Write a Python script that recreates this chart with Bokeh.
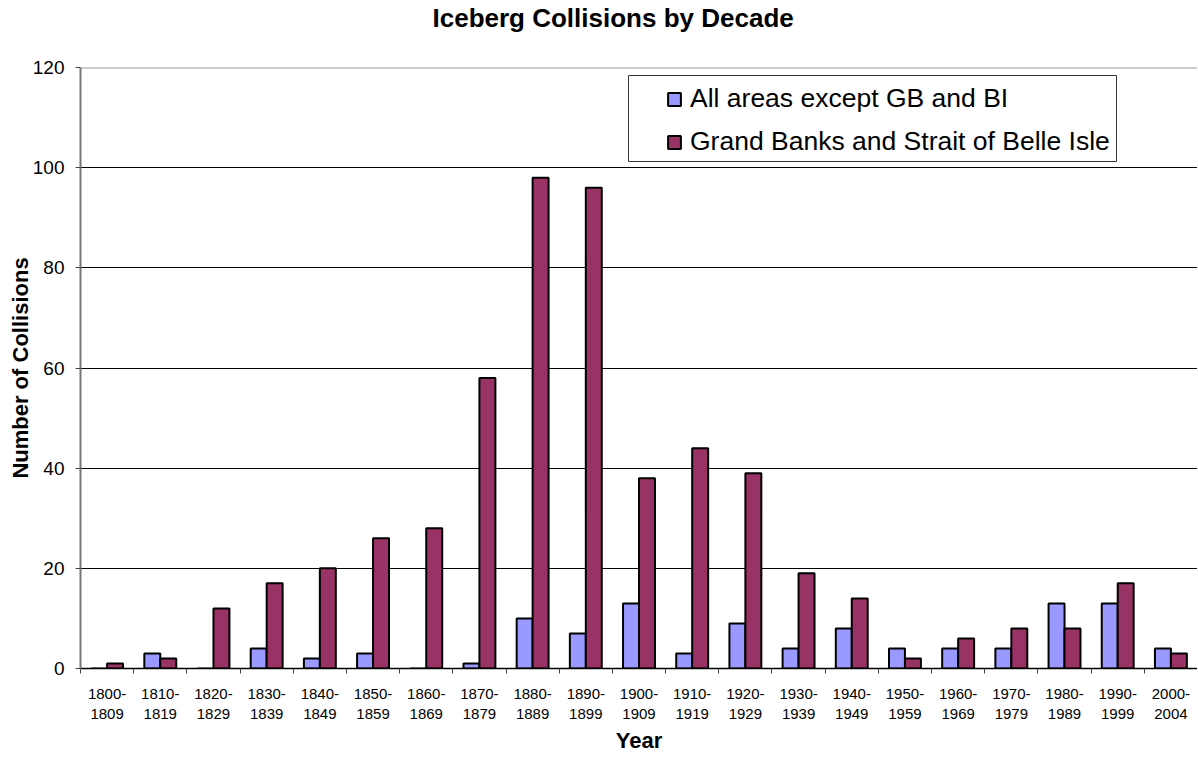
from bokeh.plotting import figure
from bokeh.models import (ColumnDataSource, FixedTicker, Range1d, Span, Legend,
                          LegendItem, BoxAnnotation, Title)
from bokeh.transform import dodge
from bokeh.embed import file_html
from bokeh.resources import INLINE

decades = ["1800-\n1809", "1810-\n1819", "1820-\n1829", "1830-\n1839", "1840-\n1849",
           "1850-\n1859", "1860-\n1869", "1870-\n1879", "1880-\n1889", "1890-\n1899",
           "1900-\n1909", "1910-\n1919", "1920-\n1929", "1930-\n1939", "1940-\n1949",
           "1950-\n1959", "1960-\n1969", "1970-\n1979", "1980-\n1989", "1990-\n1999",
           "2000-\n2004"]
other_areas = [0, 3, 0, 4, 2, 3, 0, 1, 10, 7, 13, 3, 9, 4, 8, 4, 4, 4, 13, 13, 4]
grand_banks = [1, 2, 12, 17, 20, 26, 28, 58, 98, 96, 38, 44, 39, 19, 14, 2, 6, 8, 8, 17, 3]
y_ticks = [0, 20, 40, 60, 80, 100, 120]
title_text = "Iceberg Collisions by Decade"

FONT = "Liberation Sans"
n = len(decades)
centers = [i + 0.5 for i in range(n)]
src = ColumnDataSource(dict(x=centers, other=other_areas, gb=grand_banks))

p = figure(width=1197, height=756, output_backend="svg", toolbar_location=None,
           x_range=Range1d(0, n), y_range=Range1d(0, 120),
           min_border_left=80, min_border_right=0, min_border_top=67, min_border_bottom=88,
           title=title_text)
p.title.align = "left"
p.title.offset = 352
p.title.standoff = 0
p.title.text_font = FONT
p.title.text_font_size = "26px"
p.title.text_font_style = "bold"
p.title.text_color = "black"
# blank spacer between the title and the plot frame
p.add_layout(Title(text=" ", text_font_size="10px", standoff=22), "above")
p.outline_line_color = None
p.background_fill_color = "white"
p.border_fill_color = "white"

r1 = p.vbar(x=dodge("x", -0.15), top="other", width=0.3, source=src,
            fill_color="#9999FF", line_color="black", line_width=2)
r2 = p.vbar(x=dodge("x", 0.15), top="gb", width=0.3, source=src,
            fill_color="#993366", line_color="black", line_width=2)

# x axis
p.xaxis.ticker = FixedTicker(ticks=centers, minor_ticks=list(range(n + 1)))
p.xaxis.major_label_overrides = {c: d for c, d in zip(centers, decades)}
p.xaxis.major_tick_out = 0
p.xaxis.major_tick_in = 0
p.xaxis.minor_tick_out = 5
p.xaxis.minor_tick_in = 0
p.xaxis.minor_tick_line_color = "#444444"
p.xaxis.axis_line_color = "black"
p.xaxis.axis_line_width = 1.5
p.xaxis.major_label_text_font = FONT
p.xaxis.major_label_text_font_size = "15px"
p.xaxis.major_label_text_color = "black"
p.xaxis.major_label_standoff = 11
p.xaxis.axis_label = "Year"
p.xaxis.axis_label_text_font = FONT
p.xaxis.axis_label_text_font_size = "22px"
p.xaxis.axis_label_text_font_style = "bold"
p.xaxis.axis_label_text_color = "black"
p.xaxis.axis_label_standoff = 3

# y axis
p.yaxis.ticker = FixedTicker(ticks=y_ticks)
p.yaxis.minor_tick_line_color = None
p.yaxis.major_tick_out = 5
p.yaxis.major_tick_in = 0
p.yaxis.major_tick_line_color = "#444444"
p.yaxis.axis_line_color = "#777777"
p.yaxis.axis_line_width = 2
p.yaxis.major_label_text_font = FONT
p.yaxis.major_label_text_font_size = "19px"
p.yaxis.major_label_text_color = "black"
p.yaxis.major_label_standoff = 11
p.yaxis.axis_label = "Number of Collisions"
p.yaxis.axis_label_text_font = FONT
p.yaxis.axis_label_text_font_size = "22px"
p.yaxis.axis_label_text_font_style = "bold"
p.yaxis.axis_label_text_color = "black"
p.yaxis.axis_label_standoff = -3

p.xgrid.grid_line_color = None
p.ygrid.ticker = FixedTicker(ticks=[20, 40, 60, 80, 100])
p.ygrid.grid_line_color = "black"
p.ygrid.grid_line_width = 1
p.add_layout(Span(location=120, dimension="width", line_color="#999999", line_width=2))

# legend frame (screen units, relative to the plot frame)
p.add_layout(BoxAnnotation(left=548, right=1036, top=593, bottom=507,
                           left_units="screen", right_units="screen",
                           top_units="screen", bottom_units="screen",
                           fill_color="white", fill_alpha=1,
                           line_color="#333333", line_width=1, line_alpha=1))

legend = Legend(items=[LegendItem(label="All areas except GB and BI", renderers=[r1]),
                       LegendItem(label="Grand Banks and Strait of Belle Isle", renderers=[r2])])
legend.label_text_font = FONT
legend.label_text_font_size = "26.5px"
legend.label_text_color = "black"
legend.glyph_width = 16
legend.glyph_height = 16
legend.label_height = 30
legend.label_standoff = 8
legend.spacing = 12
legend.padding = 5
legend.margin = 0
legend.border_line_color = None
legend.background_fill_alpha = 0
legend.location = (586, 511)
p.add_layout(legend, "center")

open("out.html", "w").write(file_html(p, INLINE))
